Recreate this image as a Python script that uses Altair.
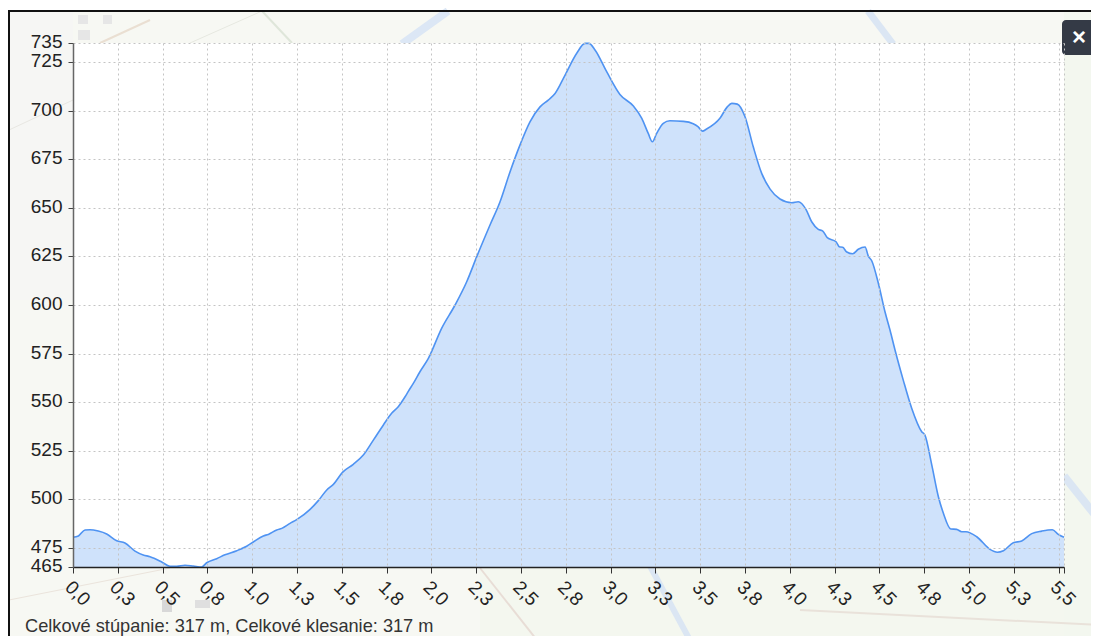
import altair as alt
import pandas as pd

distance_km = [0.0,0.03,0.067,0.095,0.141,0.188,0.244,0.29,0.346,0.392,0.43,0.495,0.541,0.579,0.625,0.671,0.718,0.746,0.802,0.848,0.914,0.969,1.006,1.062,1.09,1.137,1.165,1.211,1.248,1.323,1.369,1.416,1.453,1.505,1.564,1.62,1.676,1.732,1.778,1.815,1.853,1.871,1.899,1.936,1.983,2.057,2.132,2.197,2.253,2.327,2.383,2.439,2.494,2.55,2.606,2.652,2.69,2.746,2.811,2.857,2.879,2.913,2.978,3.052,3.127,3.174,3.21,3.233,3.257,3.294,3.331,3.406,3.461,3.489,3.512,3.536,3.61,3.651,3.676,3.707,3.75,3.796,3.843,3.89,3.945,4.011,4.047,4.09,4.122,4.159,4.184,4.209,4.258,4.276,4.295,4.318,4.351,4.382,4.42,4.438,4.457,4.494,4.531,4.559,4.587,4.633,4.68,4.736,4.754,4.792,4.829,4.857,4.898,4.931,4.959,4.983,5.043,5.117,5.158,5.192,5.247,5.294,5.35,5.406,5.465,5.498,5.53]
elevation_m = [480.3,481.0,484.1,484.2,483.5,482.0,478.5,477.4,473.2,471.2,470.3,467.6,465.4,465.4,465.9,465.5,465.0,467.2,469.3,471.3,473.4,475.7,477.9,481.0,481.8,484.1,484.9,487.5,489.4,494.7,499.2,504.7,507.6,513.9,517.9,522.7,530.4,538.2,544.2,547.6,552.7,555.5,559.6,565.6,572.5,588.0,600.0,612.0,624.9,641.2,653.2,668.7,682.4,694.4,702.1,705.6,709.0,718.5,729.7,734.8,734.8,731.4,720.2,708.5,702.5,696.2,688.4,684.1,688.4,693.6,694.9,694.6,693.4,691.8,689.6,690.7,696.2,702.1,703.9,703.5,697.0,681.5,667.8,659.7,654.6,652.7,653.2,649.3,642.9,639.0,638.1,634.7,632.6,630.0,629.7,627.3,626.4,628.7,629.9,625.2,622.8,611.2,596.5,587.1,576.8,561.3,546.8,534.7,533.0,517.6,501.2,492.7,484.6,484.4,483.2,483.2,480.6,474.1,472.6,473.4,477.5,478.4,482.2,483.5,484.2,481.8,480.3]
x_ticks = [0,0.25,0.5,0.75,1,1.25,1.5,1.75,2,2.25,2.5,2.75,3,3.25,3.5,3.75,4,4.25,4.5,4.75,5,5.25,5.5,5.53]
y_ticks = [465,475,500,525,550,575,600,625,650,675,700,725,735]
summary = "Celkové stúpanie: 317 m, Celkové klesanie: 317 m"

W, H = 991, 524
OX, OY = 73, 43
df = pd.DataFrame({"km": distance_km, "m": elevation_m})
one = alt.Data(values=[{}])

def box(x, y, x2, y2, **kw):
    return alt.Chart(one).mark_rect(**kw).encode(
        x=alt.value(x - OX), x2=alt.value(x2 - OX), y=alt.value(y - OY), y2=alt.value(y2 - OY))

def stroke(x, y, x2, y2, color, width):
    return alt.Chart(one).mark_rule(color=color, strokeWidth=width).encode(
        x=alt.value(x - OX), x2=alt.value(x2 - OX), y=alt.value(y - OY), y2=alt.value(y2 - OY))

x_scale = alt.Scale(domain=[0, 5.53], nice=False, zero=False)
y_scale = alt.Scale(domain=[465, 735], nice=False, zero=False)

map_layers = [
    box(9, 11, 1099, 644, fill="#f7f8f3"),
    box(480, 568, 1099, 644, fill="#f4f7ef"),
    box(1064, 11, 1099, 644, fill="#f3f7ef"),
    box(9, 11, 73, 300, fill="#f6f6f4"),
    stroke(650, 566, 692, 644, "#dbe6f3", 6),
    stroke(402, 44, 448, 11, "#dce7f5", 8),
    stroke(868, 11, 893, 44, "#dbe6f3", 7),
    stroke(1064, 476, 1099, 520, "#dbe6f3", 8),
    stroke(100, 43, 150, 20, "#eadfd2", 2),
    stroke(262, 11, 292, 43, "#dfe6da", 2),
    stroke(190, 43, 262, 11, "#e6e8e0", 1),
    stroke(9, 600, 170, 568, "#ebe4dc", 1),
    stroke(480, 568, 540, 644, "#e8ddd6", 2),
    stroke(800, 610, 1099, 625, "#e9e2da", 2),
    stroke(9, 130, 73, 100, "#e8e7e2", 1),
    box(78, 15, 88, 24, fill="#e6e6e6"),
    box(103, 15, 112, 24, fill="#e6e6e6"),
    box(78, 30, 90, 40, fill="#e6e6e6"),
    box(162, 600, 172, 612, fill="#d8d8d8"),
    box(195, 600, 210, 608, fill="#dfdfdf"),
]
frame = box(9, 11, 1110, 660, fill="transparent", stroke="#111111", strokeWidth=2)
plot_bg = box(OX, OY, OX + W, OY + H, fill="white")

x_axis = alt.Axis(
    title=None, values=x_ticks, grid=True, gridDash=[2, 3], gridColor="#c4c4c4",
    domainColor="#222222", domainWidth=1.5, tickColor="#333333", tickSize=6,
    labelAngle=45, labelFontSize=19, labelColor="#222222", labelFont="Liberation Sans",
    labelAlign="center", labelBaseline="middle", labelPadding=20, labelOverlap=False, labelOffset=4,
    labelExpr="datum.value > 5.52 ? '' : replace(format(datum.value, '.1f'), '.', ',')",
    zindex=1,
)
y_axis = alt.Axis(
    title=None, values=y_ticks, grid=True, gridDash=[2, 3], gridColor="#c4c4c4",
    domainColor="#666666", domainWidth=1.5, tickColor="#444444", tickSize=5,
    labelFontSize=19, labelColor="#222222", labelFont="Liberation Sans", labelPadding=6,
    labelOffset=-1.5, labelOverlap=False, format="d", zindex=1,
)

area = alt.Chart(df).mark_area(color="#cfe2fb", interpolate="monotone", opacity=1).encode(
    x=alt.X("km:Q", scale=x_scale, axis=x_axis),
    y=alt.Y("m:Q", scale=y_scale, axis=y_axis),
    y2=alt.Y2(datum=465),
)
line = alt.Chart(df).mark_line(color="#4f93f2", strokeWidth=1.6, interpolate="monotone").encode(
    x=alt.X("km:Q", scale=x_scale), y=alt.Y("m:Q", scale=y_scale),
)
caption = alt.Chart(one).mark_text(
    align="left", baseline="middle", fontSize=18.2, font="Liberation Sans", color="#333333"
).encode(x=alt.value(25 - OX), y=alt.value(627 - OY), text=alt.value(summary))
btn = box(1062, 20, 1098, 55, fill="#343a46", cornerRadius=4)
btn_x = alt.Chart(one).mark_text(
    align="center", baseline="middle", fontSize=24, fontWeight="bold", font="Liberation Sans", color="white"
).encode(x=alt.value(1079 - OX), y=alt.value(38 - OY), text=alt.value("×"))

chart = alt.layer(*map_layers, frame, plot_bg, area, line, caption, btn, btn_x).properties(
    width=W, height=H,
    padding={"left": 65, "top": 35, "right": 27, "bottom": 69},
    autosize=alt.AutoSizeParams(type="none"),
    background="white",
).configure_view(stroke=None)

chart.save("out.html", embed_options={"renderer": "svg", "actions": False})
